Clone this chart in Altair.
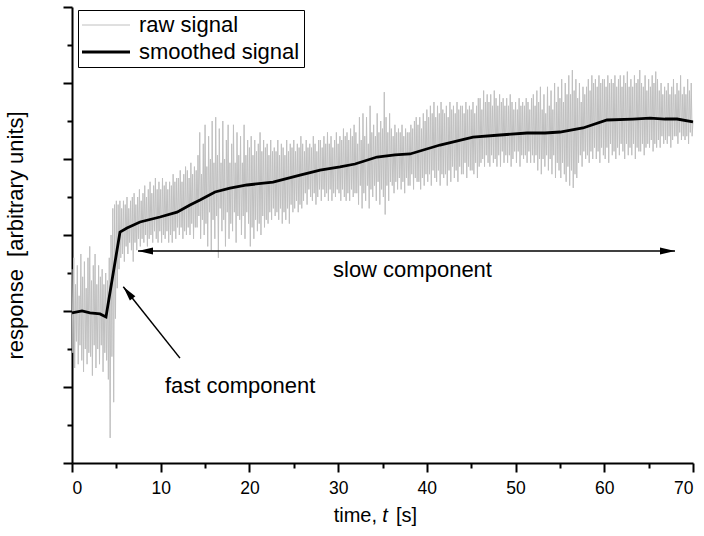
import altair as alt
import pandas as pd

FONT = "Liberation Sans"
NB = "\u00a0"

raw_values = [
    2.55, 1.45, 2.70, 1.25, 2.35, 1.60, 2.60, 1.30, 2.20, 1.55,
    2.75, 1.35, 2.45, 1.20, 2.65, 1.50, 2.30, 1.30, 2.70, 1.45,
    2.85, 1.40, 2.40, 1.15, 2.60, 1.55, 2.75, 1.25, 2.35, 1.50,
    2.60, 1.30, 2.45, 1.55, 2.55, 1.20, 2.35, 1.45, 2.50, 1.35,
    2.40, 1.10, 2.70, 0.33, 3.00, 1.40, 3.35, 0.80, 3.40, 1.90,
    3.45, 2.30, 3.40, 2.55, 3.45, 2.70, 3.35, 2.75, 3.45, 2.65,
    3.40, 2.85, 3.50, 2.75, 3.35, 2.90, 3.45, 2.80, 3.50, 2.65,
    3.55, 2.90, 3.40, 2.80, 3.50, 2.95, 3.60, 2.85, 3.45, 2.95,
    3.55, 2.90, 3.65, 3.00, 3.50, 2.85, 3.60, 2.95, 3.70, 3.00,
    3.55, 2.90, 3.65, 3.05, 3.75, 2.95, 3.60, 2.90, 3.70, 3.05,
    3.60, 2.90, 3.75, 3.00, 3.65, 2.95, 3.70, 3.05, 3.60, 2.90,
    3.70, 3.00, 3.65, 2.90, 3.80, 3.05, 3.70, 2.95, 3.75, 3.10,
    3.75, 3.00, 3.85, 3.10, 3.70, 2.95, 3.80, 3.05, 3.90, 3.00,
    3.85, 3.10, 3.75, 3.00, 3.95, 3.15, 3.80, 2.95, 3.90, 3.10,
    3.85, 3.10, 4.05, 3.25, 4.35, 2.95, 3.80, 3.20, 4.20, 3.00,
    4.45, 3.15, 3.90, 2.85, 4.30, 3.30, 4.00, 2.80, 4.50, 3.20,
    3.95, 2.95, 4.55, 3.25, 4.05, 2.70, 4.40, 3.35, 3.95, 3.05,
    4.50, 3.20, 4.00, 2.85, 4.25, 3.30, 4.45, 2.95, 3.95, 3.15,
    4.20, 3.05, 4.45, 3.30, 3.95, 2.90, 4.35, 3.25, 4.05, 3.20,
    4.30, 3.00, 3.95, 3.25, 4.45, 2.95, 4.05, 3.30, 4.25, 3.15,
    4.15, 2.85, 4.30, 3.10, 4.05, 2.95, 4.25, 3.20, 4.10, 3.05,
    4.20, 3.15, 4.35, 3.00, 4.10, 3.25, 4.25, 3.10, 4.15, 3.20,
    4.20, 3.15, 4.05, 3.30, 4.25, 3.20, 4.10, 3.35, 4.15, 3.25,
    4.10, 3.30, 4.25, 3.20, 4.05, 3.35, 4.20, 3.15, 4.15, 3.30,
    4.05, 3.20, 4.25, 3.35, 4.10, 3.15, 4.20, 3.40, 4.15, 3.30,
    4.25, 3.35, 4.10, 3.45, 4.20, 3.30, 4.15, 3.40, 4.30, 3.35,
    4.20, 3.45, 4.10, 3.55, 4.25, 3.40, 4.15, 3.60, 4.20, 3.50,
    4.15, 3.45, 4.30, 3.55, 4.20, 3.40, 4.10, 3.50, 4.25, 3.60,
    4.25, 3.45, 4.15, 3.60, 4.30, 3.50, 4.20, 3.55, 4.35, 3.45,
    4.20, 3.60, 4.30, 3.45, 4.15, 3.55, 4.25, 3.50, 4.35, 3.60,
    4.20, 3.55, 4.30, 3.45, 4.25, 3.60, 4.40, 3.50, 4.30, 3.45,
    4.35, 3.55, 4.25, 3.45, 4.40, 3.60, 4.30, 3.50, 4.45, 3.55,
    4.35, 3.55, 4.20, 3.40, 4.55, 3.65, 4.25, 3.35, 4.60, 3.55,
    4.30, 3.45, 4.55, 3.65, 4.20, 3.35, 4.70, 3.60, 4.35, 3.50,
    4.45, 3.65, 4.30, 3.45, 4.60, 3.70, 4.35, 3.40, 4.50, 3.60,
    4.40, 3.50, 4.88, 3.27, 4.55, 3.65, 4.35, 3.45, 4.60, 3.70,
    4.40, 3.65, 4.30, 3.55, 4.45, 3.70, 4.35, 3.60, 4.40, 3.75,
    4.35, 3.60, 4.45, 3.70, 4.30, 3.55, 4.40, 3.75, 4.35, 3.65,
    4.35, 3.65, 4.45, 3.80, 4.40, 3.60, 4.50, 3.75, 4.55, 3.70,
    4.45, 3.70, 4.55, 3.60, 4.40, 3.75, 4.60, 3.65, 4.50, 3.80,
    4.65, 3.70, 4.55, 3.80, 4.70, 3.65, 4.60, 3.85, 4.75, 3.75,
    4.55, 3.70, 4.70, 3.85, 4.60, 3.65, 4.75, 3.80, 4.65, 3.75,
    4.60, 3.80, 4.70, 3.65, 4.55, 3.85, 4.75, 3.70, 4.65, 3.90,
    4.70, 3.75, 4.60, 3.85, 4.75, 3.70, 4.65, 3.90, 4.70, 3.80,
    4.70, 3.80, 4.60, 3.95, 4.75, 3.75, 4.65, 3.90, 4.70, 3.85,
    4.65, 3.85, 4.75, 3.80, 4.60, 3.95, 4.70, 3.75, 4.80, 3.90,
    4.80, 3.95, 4.65, 4.00, 4.90, 3.90, 4.75, 4.05, 4.85, 3.95,
    4.75, 3.90, 4.85, 4.05, 4.70, 3.95, 4.90, 4.00, 4.80, 3.90,
    4.70, 4.05, 4.85, 3.90, 4.75, 4.10, 4.80, 3.95, 4.70, 4.05,
    4.80, 3.95, 4.70, 4.05, 4.85, 3.90, 4.75, 4.00, 4.65, 4.10,
    4.75, 3.95, 4.65, 4.10, 4.80, 3.90, 4.70, 4.05, 4.75, 4.00,
    4.70, 4.05, 4.80, 3.95, 4.75, 4.10, 4.65, 3.95, 4.80, 4.05,
    4.85, 3.95, 4.70, 4.05, 4.90, 3.85, 4.75, 4.00, 4.95, 3.80,
    4.65, 4.00, 4.85, 3.90, 4.60, 4.05, 4.95, 3.85, 4.70, 4.00,
    4.90, 3.80, 4.65, 4.05, 5.00, 3.75, 4.75, 3.95, 4.95, 3.85,
    4.80, 3.75, 5.05, 3.95, 4.75, 3.80, 5.00, 3.70, 4.85, 3.90,
    5.10, 3.65, 4.85, 3.85, 5.17, 3.62, 4.90, 3.80, 5.05, 3.75,
    4.80, 3.95, 5.00, 4.05, 4.75, 3.90, 4.95, 4.10, 4.85, 4.00,
    4.95, 4.05, 5.05, 3.95, 4.90, 4.10, 5.10, 4.00, 5.00, 4.15,
    5.05, 4.00, 4.95, 4.10, 5.10, 3.95, 5.00, 4.15, 5.05, 4.05,
    5.05, 4.00, 4.95, 4.15, 5.10, 3.95, 5.00, 4.20, 5.05, 4.05,
    5.00, 4.10, 5.10, 4.00, 4.95, 4.15, 5.05, 4.05, 5.10, 4.20,
    4.95, 4.10, 5.10, 4.00, 5.00, 4.20, 5.15, 4.05, 4.95, 4.15,
    5.05, 4.05, 4.95, 4.20, 5.10, 4.00, 5.00, 4.15, 5.05, 4.10,
    5.17, 4.10, 5.00, 4.20, 4.95, 4.05, 5.10, 4.15, 4.90, 4.20,
    5.05, 4.15, 4.95, 4.25, 5.10, 4.10, 5.00, 4.20, 5.15, 4.15,
    5.05, 4.25, 4.90, 4.15, 5.00, 4.30, 4.85, 4.20, 4.95, 4.25,
    4.90, 4.20, 5.00, 4.30, 4.85, 4.15, 4.95, 4.25, 5.05, 4.30,
    4.85, 4.30, 5.00, 4.20, 4.90, 4.35, 5.10, 4.25, 4.85, 4.30,
    4.95, 4.25, 4.85, 4.30, 5.05, 4.20, 4.90, 4.35, 5.00, 4.30,
    4.50,
]
raw_time = [round(0.1 * i, 1) for i in range(len(raw_values))]

smooth_time = [0.0, 1.13, 2.03, 3.16, 3.83, 5.41, 6.20, 7.67, 9.92, 11.84,
               13.30, 14.43, 16.12, 17.81, 19.73, 22.66, 25.70, 27.96, 30.21,
               31.90, 34.38, 36.41, 38.10, 41.48, 45.20, 48.25, 51.29, 53.32,
               55.01, 57.60, 60.31, 63.24, 65.16, 66.85, 68.20, 70.0]
smooth_values = [1.974, 2.0, 1.974, 1.961, 1.921, 3.039, 3.092, 3.171, 3.237,
                 3.30, 3.395, 3.461, 3.566, 3.618, 3.658, 3.697, 3.789, 3.855,
                 3.895, 3.934, 4.026, 4.053, 4.066, 4.184, 4.289, 4.316, 4.342,
                 4.342, 4.355, 4.408, 4.513, 4.526, 4.539, 4.526, 4.526, 4.487]

series_names = ["raw signal", "smoothed signal"]
series_colors = ["#c0c0c0", "#000000"]

x_major = [0, 10, 20, 30, 40, 50, 60, 70]
x_minor = [5, 15, 25, 35, 45, 55, 65]
y_major = [0, 1, 2, 3, 4, 5, 6]
y_minor = [0.5, 1.5, 2.5, 3.5, 4.5, 5.5]

y_title = "response" + NB + NB + "[arbitrary units]"
# x-axis title pieces ("t" is italic in the reference)
xt_plain_text = ["time,", "[s]"]
xt_plain_t = [34.38, 36.52]
xt_plain_align = ["right", "left"]
xt_italic_text = ["t"]
xt_italic_t = [35.28]
xt_y = -0.776

# annotation arrows (data coordinates)
arrow_t1 = [7.44, 12.17]
arrow_y1 = [2.79, 1.38]
arrow_t2 = [67.97, 5.78]
arrow_y2 = [2.79, 2.32]
head_t = [7.44, 67.97, 5.78]
head_y = [2.79, 2.79, 2.32]
head_angle = [270, 90, 321.5]
label_text = ["slow component", "fast component"]
label_t = [29.42, 10.48]
label_y = [2.45, 0.92]

# ---- tables ----
lines_df = pd.concat([
    pd.DataFrame({"t": raw_time, "v": raw_values, "series": series_names[0]}),
    pd.DataFrame({"t": smooth_time, "v": smooth_values, "series": series_names[1]}),
])
rules_df = pd.DataFrame({"t1": arrow_t1, "y1": arrow_y1, "t2": arrow_t2, "y2": arrow_y2})
heads_df = pd.DataFrame({"t": head_t, "y": head_y, "angle": head_angle})
labels_df = pd.DataFrame({"t": label_t, "y": label_y, "text": label_text})
xt_left_df = pd.DataFrame({"t": [xt_plain_t[0]], "y": [xt_y], "text": [xt_plain_text[0]]})
xt_right_df = pd.DataFrame({"t": [xt_plain_t[1]], "y": [xt_y], "text": [xt_plain_text[1]]})
xt_ital_df = pd.DataFrame({"t": xt_italic_t, "y": [xt_y], "text": xt_italic_text})

xscale = alt.Scale(domain=[0, 70], nice=False, zero=False)
yscale = alt.Scale(domain=[0, 6], nice=False, zero=False)

legend = alt.Legend(
    title=None, orient="none", legendX=6, legendY=3,
    strokeColor="black", fillColor="white", padding=4,
    labelFont=FONT, labelFontSize=22, labelColor="black", labelLimit=0,
    symbolType="M-4.8,0L4.8,0", symbolSize=100, symbolOffset=13,
    labelOffset=22, rowPadding=5,
)

lines = alt.Chart(lines_df).mark_line(interpolate="linear").encode(
    x=alt.X("t:Q", scale=xscale, axis=alt.Axis(
        orient="bottom", values=x_major, tickSize=9, tickWidth=2, tickColor="black",
        domainColor="black", domainWidth=2, labelFont=FONT, labelFontSize=17.5,
        labelColor="black", labelPadding=7, grid=False, title=None,
    )),
    y=alt.Y("v:Q", scale=yscale, axis=alt.Axis(
        orient="left", values=y_major, tickSize=9, tickWidth=2, tickColor="black",
        domainColor="black", domainWidth=2, labels=False, grid=False,
        title=y_title, titleFont=FONT, titleFontSize=22,
        titleFontWeight="normal", titleColor="black",
        titleX=-50, titleY=228, titleBaseline="alphabetic", titleAlign="center",
        titleAngle=270,
    )),
    color=alt.Color("series:N", scale=alt.Scale(domain=series_names, range=series_colors),
                    legend=legend),
    strokeWidth=alt.StrokeWidth("series:N", scale=alt.Scale(domain=series_names, range=[1, 2.8]),
                                legend=legend),
)

rules = alt.Chart(rules_df).mark_rule(color="black", strokeWidth=1.5).encode(
    x=alt.X("t1:Q", scale=xscale, axis=alt.Axis(
        orient="bottom", values=x_minor, tickSize=5, tickWidth=2, tickColor="black",
        labels=False, domain=False, grid=False, title=None)),
    y=alt.Y("y1:Q", scale=yscale, axis=alt.Axis(
        orient="left", values=y_minor, tickSize=5, tickWidth=2, tickColor="black",
        labels=False, domain=False, grid=False, title=None)),
    x2="t2:Q",
    y2="y2:Q",
)

heads = alt.Chart(heads_df).mark_point(
    shape="M0,0L0.47,2L-0.47,2Z", filled=True, color="black", opacity=1,
    size=225, strokeWidth=0,
).encode(
    x=alt.X("t:Q", scale=xscale, axis=None),
    y=alt.Y("y:Q", scale=yscale, axis=None),
    angle=alt.Angle("angle:Q", scale=None),
)


def text_layer(df, align, style="normal", size=22):
    return alt.Chart(df).mark_text(
        font=FONT, fontSize=size, color="black", align=align,
        baseline="alphabetic", fontStyle=style,
    ).encode(
        x=alt.X("t:Q", scale=xscale, axis=None),
        y=alt.Y("y:Q", scale=yscale, axis=None),
        text="text:N",
    )


texts = text_layer(labels_df, "left")
xt_left = text_layer(xt_left_df, "right", size=20)
xt_right = text_layer(xt_right_df, "left", size=20)
xt_ital = text_layer(xt_ital_df, "center", style="italic", size=20)

chart = alt.layer(lines, rules, heads, texts, xt_left, xt_ital, xt_right).resolve_axis(
    x="independent", y="independent"
).properties(
    width=621, height=456,
    autosize=alt.AutoSizeParams(type="none"),
    padding={"left": 72, "top": 7, "right": 11, "bottom": 73},
    background="white",
).configure_view(stroke=None)

chart.save("out.html", embed_options={"renderer": "svg", "actions": False})
